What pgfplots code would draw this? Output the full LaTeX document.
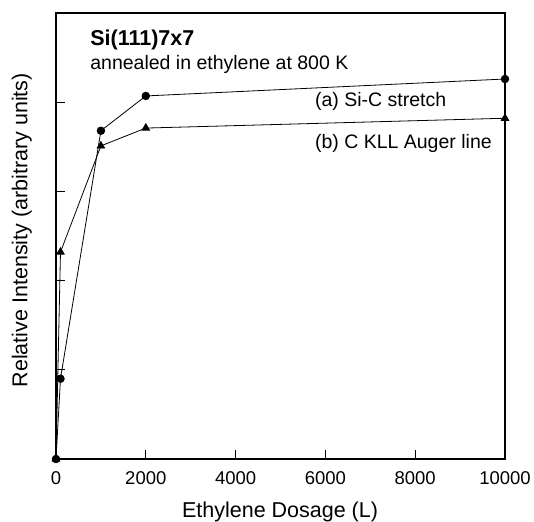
\documentclass[border=0pt]{standalone}
\usepackage{fontspec}
\setmainfont{Liberation Sans}
\usepackage{pgfplots}
\pgfplotsset{compat=1.18}

\begin{document}
\begin{tikzpicture}
% overall page frame around the axis box
\useasboundingbox (-56pt,-62pt) rectangle (478pt,459pt);
\begin{axis}[
  at={(0,0)}, anchor=south west,
  scale only axis,
  width=449pt, height=446pt,
  xmin=0, xmax=10000,
  ymin=0, ymax=5,
  xtick={0,2000,4000,6000,8000,10000},
  ytick={1,2,3,4},
  yticklabels={},
  xtick pos=bottom, ytick pos=left,
  tick align=inside,
  major tick length=9pt,
  tick style={line width=0.7pt, black},
  axis line style={line width=1.4pt},
  /pgf/number format/assume math mode=true,
  /pgf/number format/1000 sep={},
  scaled x ticks=false,
  xticklabel style={font=\fontsize{18.5}{20}\selectfont, anchor=base, yshift=-25pt},
  xlabel={Ethylene Dosage (L)},
  ylabel={Relative Intensity (arbitrary units)},
  xlabel style={font=\fontsize{21.5}{24}\selectfont, at={(axis description cs:0.499,-0.132)}, anchor=base},
  ylabel style={font=\fontsize{21.5}{24}\selectfont, at={(axis description cs:-0.076,0.513)}, anchor=center},
  clip=false,
]
% (a) Si-C stretch
\addplot[black, line width=0.8pt, mark=*, mark size=3.8pt] coordinates {
  (0,0) (100,0.90) (1000,3.68) (2000,4.07) (10000,4.26)
};
% (b) C KLL Auger line
\addplot[black, line width=0.8pt, mark=triangle*, mark size=4.3pt] coordinates {
  (0,0) (100,2.32) (1000,3.51) (2000,3.71) (10000,3.82)
};
\node[anchor=base west, inner sep=0pt, font=\fontsize{21.5}{24}\selectfont\bfseries] at (axis cs:760,4.64) {Si(111)7x7};
\node[anchor=base west, inner sep=0pt, font=\fontsize{19.5}{22}\selectfont] at (axis cs:760,4.37) {annealed in ethylene at 800 K};
\node[anchor=base west, inner sep=0pt, font=\fontsize{19.5}{22}\selectfont] at (axis cs:5765,3.95) {(a) Si-C stretch};
\node[anchor=base west, inner sep=0pt, font=\fontsize{19.5}{22}\selectfont] at (axis cs:5765,3.48) {(b) C KLL Auger line};
\end{axis}
\end{tikzpicture}
\end{document}
